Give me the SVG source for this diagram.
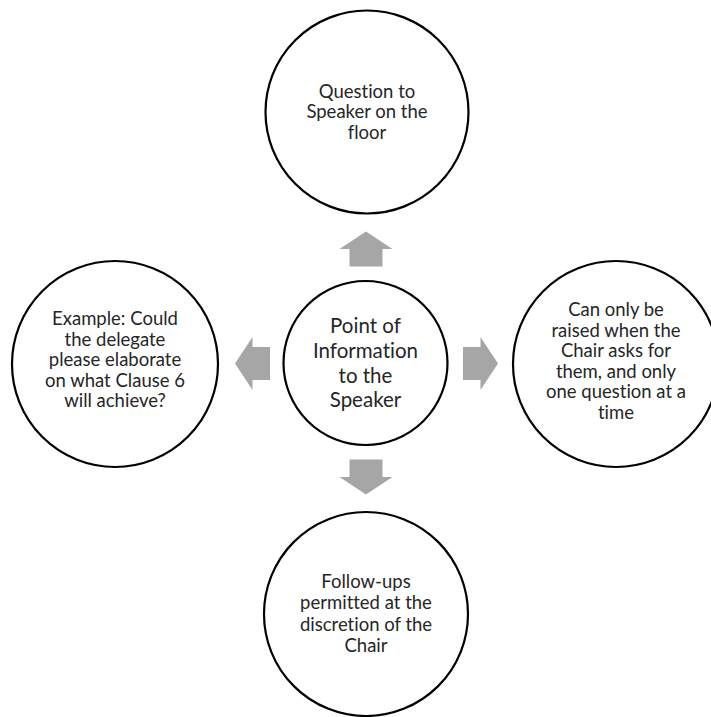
<svg xmlns="http://www.w3.org/2000/svg" xmlns:xlink="http://www.w3.org/1999/xlink" width="711" height="717" viewBox="0 0 711 717">
  <style>
    .bubble { fill: #ffffff; stroke: #000000; stroke-width: 2.2; }
    .label { font-family: Lato, "Open Sans", "Liberation Sans", sans-serif; font-size: 18.5px; fill: #262626; text-anchor: middle; font-variant-ligatures: none; }
    .hub { font-size: 20.5px; }
    .block { fill: #a6a6a6; }
  </style>
  <defs>
    <!-- block arrow pointing right, centred on the origin -->
    <polygon id="blockArrow" class="block" points="-17.5,-16.5 0,-16.5 0,-26.5 17.5,0 0,26.5 0,16.5 -17.5,16.5"/>
  </defs>
  <rect width="711" height="717" fill="#ffffff"/>

  <g id="connectors">
    <use xlink:href="#blockArrow" transform="translate(366,249) rotate(-90)"/>
    <use xlink:href="#blockArrow" transform="translate(366,477) rotate(90)"/>
    <use xlink:href="#blockArrow" transform="translate(252.5,363.5) rotate(180)"/>
    <use xlink:href="#blockArrow" transform="translate(480.5,363.5)"/>
  </g>

  <g id="node-center">
    <circle class="bubble" cx="365.5" cy="363" r="82"/>
    <text class="label hub" x="365.5" y="333">Point of</text>
    <text class="label hub" x="365.5" y="358">Information</text>
    <text class="label hub" x="365.5" y="383">to the</text>
    <text class="label hub" x="365.5" y="407">Speaker</text>
  </g>

  <g id="node-top">
    <circle class="bubble" cx="367" cy="112" r="101.5"/>
    <text class="label" x="367" y="97.5">Question to</text>
    <text class="label" x="367" y="118">Speaker on the</text>
    <text class="label" x="367" y="138.5">floor</text>
  </g>

  <g id="node-left">
    <circle class="bubble" cx="115" cy="364" r="103"/>
    <text class="label" x="115" y="325">Example: Could</text>
    <text class="label" x="115" y="345.5">the delegate</text>
    <text class="label" x="115" y="366">please elaborate</text>
    <text class="label" x="115" y="386.5">on what Clause 6</text>
    <text class="label" x="115" y="407">will achieve?</text>
  </g>

  <g id="node-right">
    <circle class="bubble" cx="616" cy="364" r="103"/>
    <text class="label" x="616" y="316">Can only be</text>
    <text class="label" x="616" y="336.5">raised when the</text>
    <text class="label" x="616" y="357">Chair asks for</text>
    <text class="label" x="616" y="377.5">them, and only</text>
    <text class="label" x="616" y="398">one question at a</text>
    <text class="label" x="616" y="418.5">time</text>
  </g>

  <g id="node-bottom">
    <circle class="bubble" cx="366" cy="614" r="102"/>
    <text class="label" x="366" y="587.5">Follow-ups</text>
    <text class="label" x="366" y="609">permitted at the</text>
    <text class="label" x="366" y="630.5">discretion of the</text>
    <text class="label" x="366" y="652">Chair</text>
  </g>
</svg>
